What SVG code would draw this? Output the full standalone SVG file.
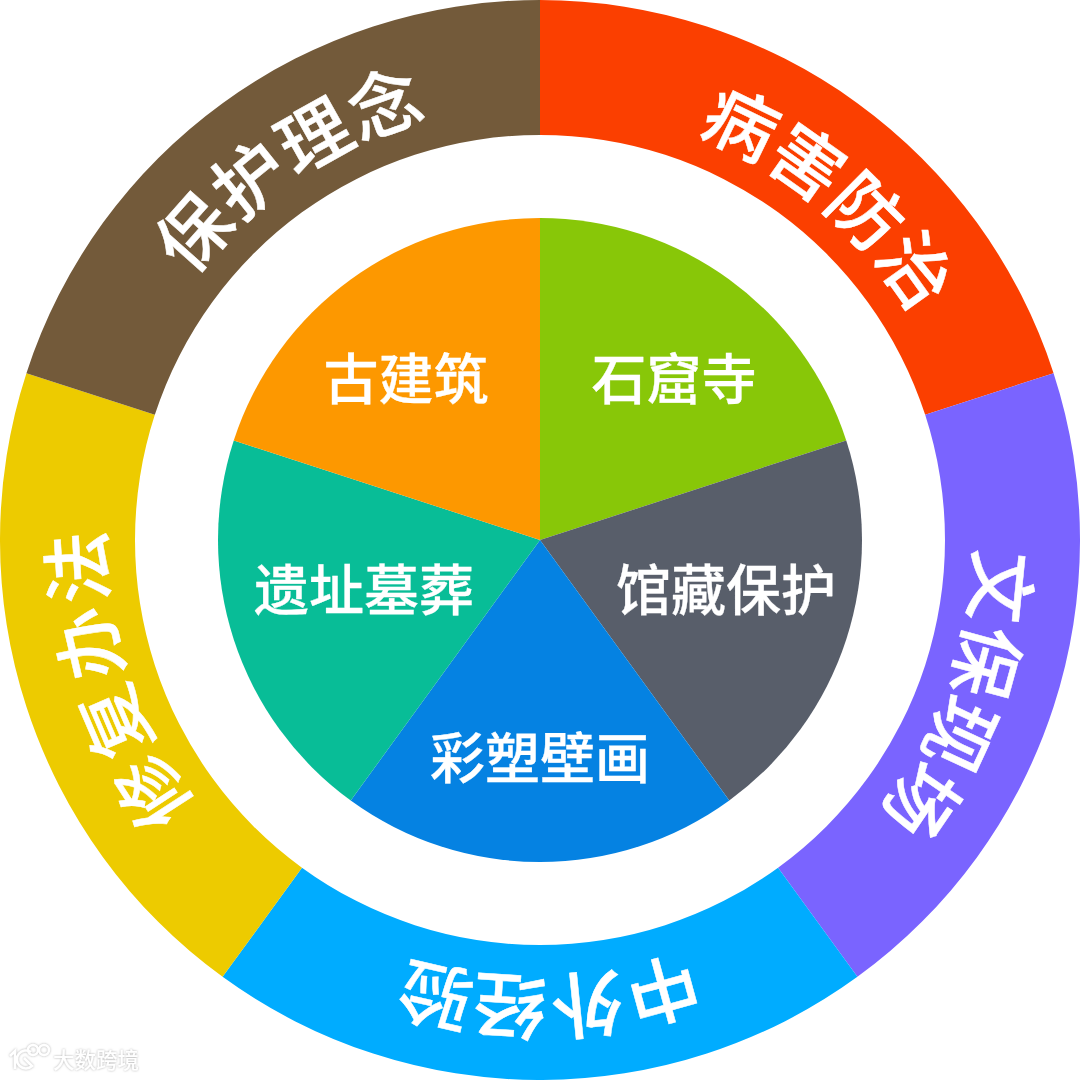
<svg xmlns="http://www.w3.org/2000/svg" width="1080" height="1080" viewBox="0 0 1080 1080">
<defs><filter id="soft" x="-20%" y="-40%" width="140%" height="180%"><feDropShadow dx="0" dy="0" stdDeviation="1.3" flood-color="#9a9a9a" flood-opacity="0.8"/></filter></defs>
<style>
text{font-family:"Noto Sans CJK SC","Noto Sans",sans-serif;text-anchor:middle;fill:#fff}
.r{font-size:72px;font-weight:500;stroke:#fff;stroke-width:.5px}
.p{font-size:55px;font-weight:500;stroke:#fff;stroke-width:.3px}
.w{font-size:21.5px;font-weight:500;text-anchor:start}
</style>
<rect width="1080" height="1080" fill="#fff"/>
<g id="ring-bingHai"><path d="M540 0A540 540 0 0 1 1053.57 373.13L925.18 414.85A405 405 0 0 0 540 135Z" fill="#fb3f00"/>
<text class="r" x="540" y="104" transform="rotate(25.8 540 540)">病</text><text class="r" x="540" y="104" transform="rotate(35.3 540 540)">害</text><text class="r" x="540" y="104" transform="rotate(44.8 540 540)">防</text><text class="r" x="540" y="104" transform="rotate(54.3 540 540)">治</text></g>
<g id="ring-wenBao"><path d="M1053.57 373.13A540 540 0 0 1 857.41 976.87L778.05 867.65A405 405 0 0 0 925.18 414.85Z" fill="#7a64ff"/>
<text class="r" x="540" y="104" transform="rotate(95.8 540 540)">文</text><text class="r" x="540" y="104" transform="rotate(105.3 540 540)">保</text><text class="r" x="540" y="104" transform="rotate(114.8 540 540)">现</text><text class="r" x="540" y="104" transform="rotate(124.3 540 540)">场</text></g>
<g id="ring-zhongWai"><path d="M857.41 976.87A540 540 0 0 1 222.59 976.87L301.95 867.65A405 405 0 0 0 778.05 867.65Z" fill="#00acff"/>
<text class="r" x="540" y="100" transform="rotate(164.7 540 540)">中</text><text class="r" x="540" y="100" transform="rotate(174.2 540 540)">外</text><text class="r" x="540" y="100" transform="rotate(183.7 540 540)">经</text><text class="r" x="540" y="100" transform="rotate(192.9 540 540)">验</text></g>
<g id="ring-xiuFu"><path d="M222.59 976.87A540 540 0 0 1 26.43 373.13L154.82 414.85A405 405 0 0 0 301.95 867.65Z" fill="#edcb00"/>
<text class="r" x="540" y="104" transform="rotate(237 540 540)">修</text><text class="r" x="540" y="104" transform="rotate(246.8 540 540)">复</text><text class="r" x="540" y="104" transform="rotate(257 540 540)">办</text><text class="r" x="540" y="104" transform="rotate(266.6 540 540)">法</text></g>
<g id="ring-baoHu"><path d="M26.43 373.13A540 540 0 0 1 540 0L540 135A405 405 0 0 0 154.82 414.85Z" fill="#735a3a"/>
<text class="r" x="540" y="104" transform="rotate(311.6 540 540)">保</text><text class="r" x="540" y="104" transform="rotate(321.2 540 540)">护</text><text class="r" x="540" y="104" transform="rotate(330.8 540 540)">理</text><text class="r" x="540" y="104" transform="rotate(340.4 540 540)">念</text></g>
<g id="pie-shiku"><path d="M540 540L540 218A322 322 0 0 1 846.24 440.5Z" fill="#88c708"/><text class="p" x="674" y="399">石窟寺</text></g>
<g id="pie-guancang"><path d="M540 540L846.24 440.5A322 322 0 0 1 729.27 800.5Z" fill="#585e6a"/><text class="p" x="726" y="610">馆藏保护</text></g>
<g id="pie-caisu"><path d="M540 540L729.27 800.5A322 322 0 0 1 350.73 800.5Z" fill="#0582e2"/><text class="p" x="540" y="778">彩塑壁画</text></g>
<g id="pie-yizhi"><path d="M540 540L350.73 800.5A322 322 0 0 1 233.76 440.5Z" fill="#08bd97"/><text class="p" x="364" y="610">遗址墓葬</text></g>
<g id="pie-gujian"><path d="M540 540L233.76 440.5A322 322 0 0 1 540 218Z" fill="#fd9800"/><text class="p" x="406" y="399">古建筑</text></g>
<g id="watermark" filter="url(#soft)"><g fill="none" stroke="#fff" stroke-width="2.5"><path d="M10 1056L15 1051V1069M31 1052A9 9 0 1 0 32 1066L24 1058"/><circle cx="33" cy="1050" r="5"/><circle cx="44" cy="1050" r="5"/></g><text class="w" x="53" y="1068">大数跨境</text></g>
</svg>
